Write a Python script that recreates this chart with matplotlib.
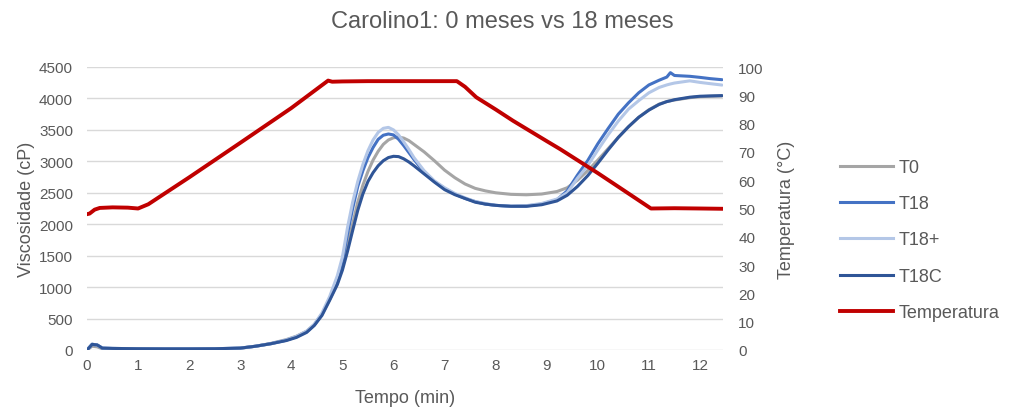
import matplotlib
matplotlib.use("Agg")
import matplotlib.pyplot as plt
from matplotlib.lines import Line2D

plt.rcParams['font.family'] = ['Liberation Sans', 'DejaVu Sans']

title = "Carolino1: 0 meses vs 18 meses"
series_names = ["T0", "T18", "T18+", "T18C"]
temp_name = "Temperatura"

# time (min) for viscosity series
t = [0.0, 0.1, 0.2, 0.3, 0.5, 1.0, 1.5, 2.0, 2.5, 3.0, 3.3, 3.6, 3.9, 4.1, 4.3,
     4.45, 4.6, 4.75, 4.9, 5.0, 5.1, 5.2, 5.3, 5.4, 5.5, 5.6, 5.7, 5.8, 5.9, 6.0,
     6.1, 6.2, 6.3, 6.4, 6.6, 6.8, 7.0, 7.2, 7.4, 7.6, 7.8, 8.0, 8.3, 8.6, 8.9,
     9.2, 9.4, 9.6, 9.8, 10.0, 10.2, 10.4, 10.6, 10.8, 11.0, 11.2, 11.35, 11.42,
     11.5, 11.8, 12.0, 12.2, 12.43]

T0 = [0, 60, 50, 20, 15, 12, 12, 12, 15, 28, 60, 105, 165, 220, 300,
      405, 570, 800, 1060, 1330, 1700, 2000, 2350, 2620, 2840, 3020, 3160, 3270, 3340, 3375,
      3385, 3370, 3330, 3270, 3150, 3010, 2860, 2740, 2640, 2570, 2530, 2500, 2475, 2468, 2480,
      2520, 2580, 2700, 2850, 3020, 3200, 3380, 3550, 3700, 3820, 3910, 3950, 3965,
      3975, 4012, 4028, 4035, 4040]

T18 = [0, 90, 80, 30, 25, 20, 18, 18, 20, 30, 60, 100, 155, 210, 290,
       400, 570, 820, 1120, 1420, 1850, 2250, 2600, 2850, 3060, 3220, 3350, 3415, 3435, 3420,
       3350, 3250, 3140, 3030, 2830, 2680, 2570, 2480, 2410, 2360, 2320, 2300, 2285, 2290, 2320,
       2390, 2530, 2780, 3010, 3280, 3520, 3750, 3930, 4090, 4215, 4290, 4340, 4410,
       4365, 4352, 4335, 4315, 4298]

T18p = [0, 95, 75, 30, 25, 20, 18, 18, 20, 30, 60, 100, 160, 215, 300,
        410, 590, 850, 1180, 1480, 1950, 2350, 2680, 2950, 3170, 3340, 3460, 3525, 3540, 3500,
        3420, 3310, 3190, 3060, 2850, 2690, 2580, 2490, 2420, 2360, 2330, 2300, 2285, 2295, 2330,
        2400, 2500, 2730, 2930, 3180, 3420, 3640, 3830, 3965, 4090, 4175, 4215, 4230,
        4245, 4280, 4255, 4235, 4213]

T18C = [0, 90, 80, 30, 25, 20, 18, 18, 20, 30, 60, 100, 150, 200, 280,
        390, 550, 790, 1040, 1270, 1570, 1900, 2220, 2480, 2680, 2820, 2930, 3010, 3060, 3080,
        3075, 3040, 2990, 2930, 2800, 2670, 2550, 2470, 2410, 2350, 2320, 2300, 2285, 2285, 2310,
        2370, 2460, 2600, 2770, 2970, 3180, 3380, 3550, 3700, 3815, 3905, 3950, 3962,
        3980, 4020, 4035, 4040, 4045]

# temperature profile
t_temp = [0.0, 0.05, 0.15, 0.25, 0.5, 0.8, 1.0, 1.2, 2.0, 3.0, 4.0, 4.72, 4.8, 5.0,
          5.5, 6.0, 6.5, 7.0, 7.24, 7.4, 7.62, 8.0, 8.34, 9.0, 9.26, 10.0, 10.5,
          11.04, 11.5, 12.0, 12.43]
temp = [48.0, 48.2, 49.6, 50.2, 50.4, 50.3, 50.0, 51.5, 61.0, 73.2, 85.5, 95.2, 94.8, 94.9,
        95.0, 95.0, 95.0, 95.0, 95.0, 93.0, 89.3, 85.0, 81.0, 73.8, 71.0, 62.5, 56.5,
        50.0, 50.1, 50.0, 49.9]

colors = ["#A5A5A5", "#4472C4", "#B4C7E7", "#2F5597"]
temp_color = "#C00000"
txt = "#595959"

fig = plt.figure(figsize=(10.1, 4.1), dpi=100)
ax = fig.add_axes([87/1010, 1-351/410, 636/1010, 283/410])
ax2 = ax.twinx()

for name, vals, c in zip(series_names, [T0, T18, T18p, T18C], colors):
    ax.plot(t, vals, color=c, lw=2.2, label=name, solid_capstyle='round')
ax2.plot(t_temp, temp, color=temp_color, lw=2.8, label=temp_name)

ax.set_xlim(0, 12.45)
ax.set_ylim(0, 4500)
ax.set_yticks(range(0, 4501, 500))
ax.set_xticks(range(0, 13))
ax2.set_ylim(0, 100)
ax2.set_yticks(range(0, 101, 10))

ax.grid(axis='y', color='#D9D9D9', lw=1.0)
ax.set_axisbelow(True)
for a in (ax, ax2):
    for s in a.spines.values():
        s.set_visible(False)
    a.tick_params(length=0, labelsize=11, colors=txt)
ax.tick_params(axis='y', pad=10)
ax2.tick_params(axis='y', pad=11)
ax.tick_params(axis='x', pad=6)

ax.set_xlabel("Tempo (min)", fontsize=13, color=txt, labelpad=12)
ax.set_ylabel("Viscosidade (cP)", fontsize=13, color=txt, labelpad=3)
ax2.set_ylabel("Temperatura (°C)", fontsize=13, color=txt, labelpad=10)

fig.text(0.497, 0.947, title, ha='center', va='center', fontsize=17, color=txt)

handles = [Line2D([], [], color=c, lw=2.2) for c in colors] + [Line2D([], [], color=temp_color, lw=2.8)]
labels = series_names + [temp_name]
leg = fig.legend(handles, labels, loc='center left', bbox_to_anchor=(824/1010, 1-241/410),
                 frameon=False, fontsize=13, handlelength=2.93, handletextpad=0.3,
                 labelspacing=1.07, labelcolor=txt)

fig.savefig("out.png", dpi=100)
